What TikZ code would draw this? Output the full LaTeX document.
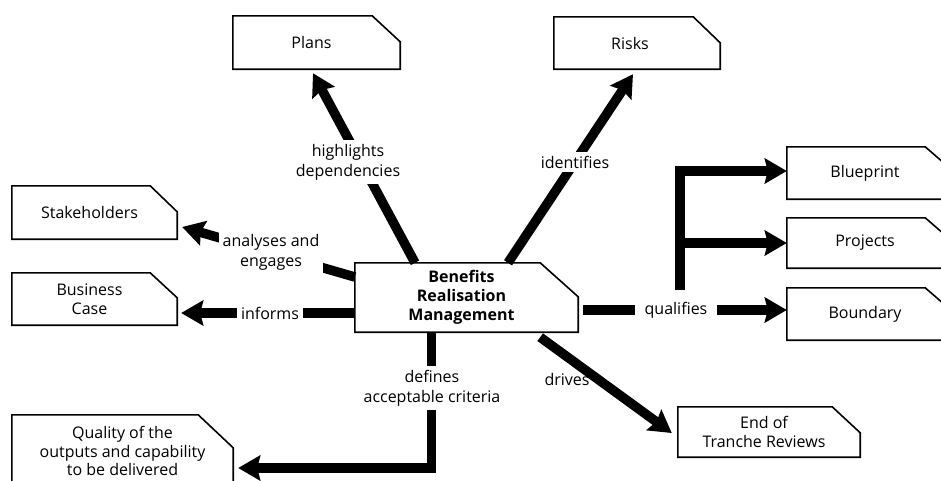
\documentclass[tikz,border=0pt]{standalone}
\usepackage{fontspec}
\setmainfont{Open Sans}
\usetikzlibrary{arrows.meta}
\newcommand\lsh{\hspace*{-10pt}}
\begin{document}
\begin{tikzpicture}[x=1pt,y=-1pt,
  box/.style={draw=none, inner sep=0pt, align=center, font=\fontsize{16}{18.5}\selectfont},
  lbl/.style={fill=white, inner sep=4pt, align=center, font=\fontsize{16}{20}\selectfont},
  conn/.style={line width=9.5pt, line join=miter, -{Stealth[length=22pt,width=25pt,inset=3pt]}},
  outline/.style={line width=1.6pt, line join=miter}]
\clip (0,0) rectangle (941,480);
\fill[white] (0,0) rectangle (941,480);
% nodes
\node[box, minimum width=223pt, minimum height=69pt, font=\bfseries\fontsize{16}{19}\selectfont] (brm) at (466.5,297.5) {\lsh Benefits\\\lsh Realisation\\\lsh Management};
\node[box, minimum width=167pt, minimum height=53pt] (plans) at (316.5,42.5) {\lsh Plans};
\node[box, minimum width=166pt, minimum height=52pt] (risks) at (637,43) {\hspace*{-14pt}Risks};
\node[box, minimum width=165pt, minimum height=53pt] (stake) at (94.5,212.5) {\lsh Stakeholders};
\node[box, minimum width=165pt, minimum height=52pt] (bcase) at (94.5,299) {\lsh Business\\\lsh Case};
\node[box, minimum width=221pt, minimum height=72pt] (quality) at (122.5,451) {Quality of the\\outputs and capability\\to be delivered};
\node[box, minimum width=168pt, minimum height=52pt] (blue) at (871,173) {\hspace*{-12pt}Blueprint};
\node[box, minimum width=168pt, minimum height=50pt] (proj) at (871,243) {\hspace*{-12pt}Projects};
\node[box, minimum width=168pt, minimum height=52pt] (bound) at (871,314) {\hspace*{-12pt}Boundary};
\node[box, minimum width=182pt, minimum height=50pt] (eot) at (769,432) {\lsh End of\\\lsh Tranche Reviews};
% outlines
\foreach \n/\cx/\cy in {plans/28/26, risks/27/26, stake/27/26, bcase/27/25, quality/35/33, brm/38/34, blue/30/26, proj/30/26, bound/30/26, eot/28/26}
  \draw[outline] (\n.south west) -- (\n.north west) -- ([xshift=-\cx pt]\n.north east) -- ([yshift=-\cy pt]\n.north east) -- (\n.south east) -- cycle;
% connectors
\draw[conn] ([xshift=-51.5pt]brm.north) -- ([xshift=-3.5pt,yshift=-4pt]plans.south);
\draw[conn] ([xshift=41.5pt]brm.north) -- ([xshift=-4pt,yshift=-5pt]risks.south);
\draw[conn] ([yshift=20.5pt]brm.west) -- ([xshift=5pt,yshift=-14.5pt]stake.east);
\draw[conn] ([yshift=-15.5pt]brm.west) -- ([xshift=4pt,yshift=-14pt]bcase.east);
\draw[conn] ([xshift=5pt,yshift=-12.5pt]brm.east) -- ([yshift=4pt]bound.west);
\coordinate (qb) at (680,290);
\draw[conn] (qb) |- ([yshift=2pt]blue.west);
\draw[conn] (qb |- proj.west) -- (proj.west);
\draw[conn] ([xshift=-38pt,yshift=-5pt]brm.south east) -- ([xshift=-6pt,yshift=-1pt]eot.west);
\draw[conn] ([xshift=-35pt]brm.south) |- ([xshift=5pt,yshift=-17pt]quality.east);
% labels
\node[lbl] (lhd) at (348,162) {highlights\\dependencies};
\node[lbl] (lid) at (575,162) {identifies};
\node[lbl] (lae) at (271,252) {analyses and\\engages};
\node[lbl] (lin) at (270,313) {informs};
\node[lbl, inner xsep=10pt] (lqu) at (676,310) {qualifies};
\node[lbl, fill=none] (ldr) at (567,379) {drives};
\node[lbl] (lde) at (432,388) {defines\\acceptable criteria};
\end{tikzpicture}
\end{document}
